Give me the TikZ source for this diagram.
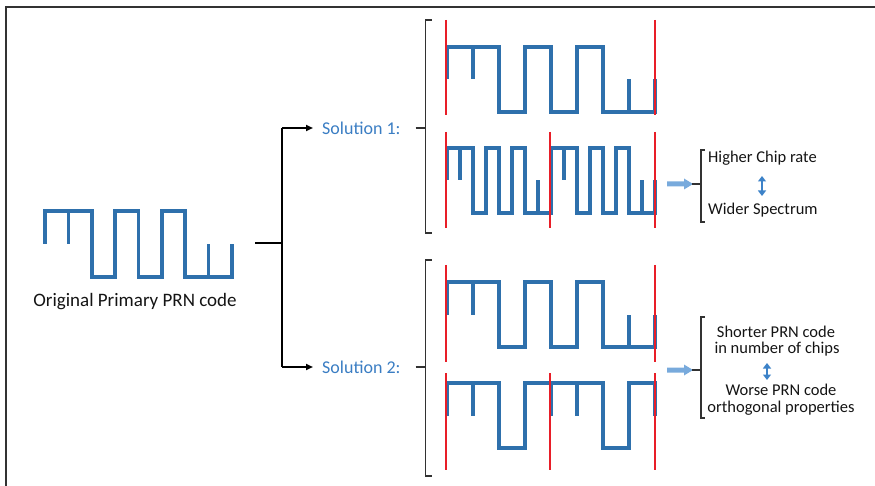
\documentclass[tikz,border=0pt]{standalone}
\usepackage{fontspec}
\setmainfont{Carlito}
\usetikzlibrary{arrows.meta}
\definecolor{wavec}{RGB}{46,112,172}
\definecolor{labc}{RGB}{58,125,195}
\definecolor{redc}{RGB}{232,30,40}
\definecolor{lbluec}{RGB}{120,170,220}
\definecolor{dbluec}{RGB}{60,130,200}
\definecolor{brkc}{RGB}{50,50,50}
\definecolor{txtc}{RGB}{20,20,20}
\tikzset{
  wave/.style={draw=wavec, line width=3.6pt, line join=miter},
  redline/.style={draw=redc, line width=1.8pt},
  brk/.style={draw=brkc, line width=1.4pt},
  conn/.style={draw=black, line width=2pt},
  conntip/.style={conn, -{Triangle[length=7pt,width=6pt]}},
  sollab/.style={text=labc, inner sep=0pt, anchor=west, font=\fontsize{18}{18}\selectfont},
  rlab/.style={text=txtc, inner sep=0pt, font=\fontsize{16.5}{16.5}\selectfont},
  dbl/.style={draw=dbluec, line width=2.8pt, {Triangle[length=5.5pt,width=8pt]}-{Triangle[length=5.5pt,width=8pt]}},
  blockarrow/.style={fill=lbluec}
}
\newcommand\prnA[4]{%
  \begin{scope}[shift={(#1,#2)},xscale=#3,yscale=-#4]
    \draw[wave] (0,0.5) -- (0,1) -- (2,1) -- (2,0) -- (3,0) -- (3,1) -- (4,1) -- (4,0) -- (5,0) -- (5,1) -- (6,1) -- (6,0) -- (8,0) -- (8,0.5);
    \draw[wave] (1,1) -- (1,0.5) (7,0) -- (7,0.5);
  \end{scope}}
\newcommand\prnB[4]{%
  \begin{scope}[shift={(#1,#2)},xscale=#3,yscale=-#4]
    \draw[wave] (0,0.5) -- (0,1) -- (2,1) -- (2,0) -- (3,0) -- (3,1) -- (4,1) -- (4,0) -- (5,0) -- (5,1) -- (6,1) -- (6,0) -- (8,0) -- (8,1) -- (10,1) -- (10,0) -- (11,0) -- (11,1) -- (12,1) -- (12,0) -- (13,0) -- (13,1) -- (14,1) -- (14,0) -- (16,0) -- (16,0.5);
    \draw[wave] (1,1) -- (1,0.5) (9,1) -- (9,0.5) (7,0) -- (7,0.5) (15,0) -- (15,0.5);
  \end{scope}}
\newcommand\prnC[4]{%
  \begin{scope}[shift={(#1,#2)},xscale=#3,yscale=-#4]
    \draw[wave] (0,0.5) -- (0,1) -- (2,1) -- (2,0) -- (3,0) -- (3,1) -- (6,1) -- (6,0) -- (7,0) -- (7,1) -- (8,1) -- (8,0.5);
    \draw[wave] (1,1) -- (1,0.5) (4,1) -- (4,0.5) (5,1) -- (5,0.5);
  \end{scope}}
\begin{document}
\begin{tikzpicture}[x=1pt,y=-1pt]
\useasboundingbox (0,0) rectangle (875,486);
% frame
\draw[line width=2pt, brkc] (5.5,486) -- (5.5,7) -- (875,7);

% original code
\prnA{45}{277}{23.375}{66}
\node[text=txtc, inner sep=0pt, anchor=base, font=\fontsize{19}{19}\selectfont] (orig) at (135,306.5) {Original Primary PRN code};

% connector
\coordinate (jin) at (255,243);
\coordinate (jmid) at (282,243);
\coordinate (jtop) at (282,128);
\coordinate (jbot) at (282,367);
\node[sollab] (s1) at (322,128) {Solution 1:};
\node[sollab] (s2) at (322,367) {Solution 2:};
\draw[conn] (jin) -- (jmid);
\draw[conn] (jtop) -- (jbot);
\draw[conntip, shorten >=9pt] (jtop) -- (s1.west);
\draw[conntip, shorten >=9pt] (jbot) -- (s2.west);

% big brackets
\coordinate (b1t) at (425.5,20);
\coordinate (b1b) at (425.5,233);
\coordinate (b2t) at (425.5,260);
\coordinate (b2b) at (425.5,476);
\draw[brk] ([xshift=6pt]b1t) -- (b1t) -- (b1b) -- ([xshift=6pt]b1b);
\draw[brk] ([xshift=6pt]b2t) -- (b2t) -- (b2b) -- ([xshift=6pt]b2b);
\draw[brk] ([xshift=15pt]s1.east) -- (s1.east -| b1t);
\draw[brk] ([xshift=15pt]s2.east) -- (s2.east -| b2t);

% solution waveforms
\prnA{447}{112}{26}{65}
\prnB{447}{213}{13}{65}
\prnA{447}{347}{26}{65}
\prnC{447}{448}{26}{65}

% red lines
\foreach \x in {446,655} \draw[redline] (\x,20) -- (\x,115);
\foreach \x in {446,550,655} \draw[redline] (\x,132) -- (\x,228);
\foreach \x in {446,655} \draw[redline] (\x,265) -- (\x,362);
\foreach \x in {446,550,655} \draw[redline] (\x,373) -- (\x,470);

% right side, solution 1
\fill[blockarrow] (667,181.5) -- (684,181.5) -- (684,178.5) -- (693,184) -- (684,189.5) -- (684,186.5) -- (667,186.5) -- cycle;
\coordinate (r1t) at (701,150);
\coordinate (r1b) at (701,222);
\coordinate (r1m) at (692,184);
\draw[brk] ([xshift=4pt]r1t) -- (r1t) -- (r1b) -- ([xshift=4pt]r1b);
\draw[brk] (r1m) -- (r1m -| r1t);
\node[rlab, anchor=base west] (h1) at (708,163) {Higher Chip rate};
\node[rlab, anchor=base west] (w1) at (708,215) {Wider Spectrum};
\draw[dbl] (762,176) -- (762,196);

% right side, solution 2
\fill[blockarrow] (667,367.5) -- (684,367.5) -- (684,364.5) -- (693,370) -- (684,375.5) -- (684,372.5) -- (667,372.5) -- cycle;
\coordinate (r2t) at (701,317);
\coordinate (r2b) at (701,418);
\coordinate (r2m) at (692,370);
\draw[brk] ([xshift=4pt]r2t) -- (r2t) -- (r2b) -- ([xshift=4pt]r2b);
\draw[brk] (r2m) -- (r2m -| r2t);
\node[rlab, anchor=base] (t1) at (776,337) {Shorter PRN code};
\node[rlab, anchor=base] (t2) at (777,353) {in number of chips};
\node[rlab, anchor=base] (t3) at (781,395) {Worse PRN code};
\node[rlab, anchor=base] (t4) at (781,412) {orthogonal properties};
\draw[dbl] (767,363) -- (767,380);
\end{tikzpicture}
\end{document}
